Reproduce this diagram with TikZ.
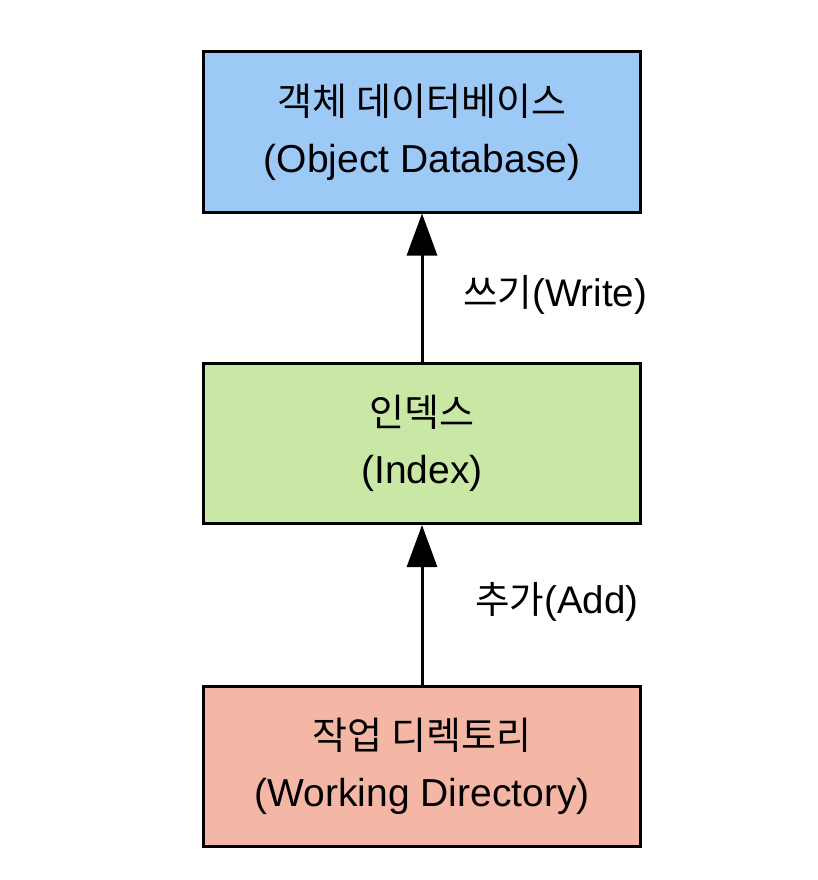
\documentclass[tikz,border=0pt]{standalone}
\usepackage{fontspec}
\setmainfont{Liberation Sans}
\newfontfamily\kr[Scale=0.975]{Noto Sans CJK KR}
\usetikzlibrary{arrows.meta}
\definecolor{dbblue}{HTML}{9DC9F7}
\definecolor{idxgreen}{HTML}{C9E8A5}
\definecolor{wdred}{HTML}{F4B7A5}
\begin{document}
\begin{tikzpicture}[x=1pt,y=-1pt,
  box/.style={draw=black, line width=3pt, minimum width=437pt, minimum height=160pt,
    align=center, inner sep=0pt, font=\fontsize{39}{57}\selectfont},
  arr/.style={line width=3pt, -{Triangle[width=30pt,length=42pt]}},
  lbl/.style={anchor=west, inner sep=0pt, font=\fontsize{38.5}{44}\selectfont}]
\useasboundingbox (0,0) rectangle (818,880);
\node[box, fill=dbblue] (db) at (422,132) {{\kr 객체 데이터베이스}\\(Object Database)};
\node[box, fill=idxgreen] (idx) at (422,443.5) {{\kr 인덱스}\\(Index)};
\node[box, fill=wdred] (wd) at (422,766) {{\kr 작업 디렉토리}\\(Working Directory)};
\draw[arr] (idx.north) -- (db.south);
\draw[arr] (wd.north) -- (idx.south);
\node[lbl] (wlabel) at (463,295) {{\kr 쓰기}(Write)};
\node[lbl] (alabel) at (475,602) {{\kr 추가}(Add)};
\end{tikzpicture}
\end{document}
